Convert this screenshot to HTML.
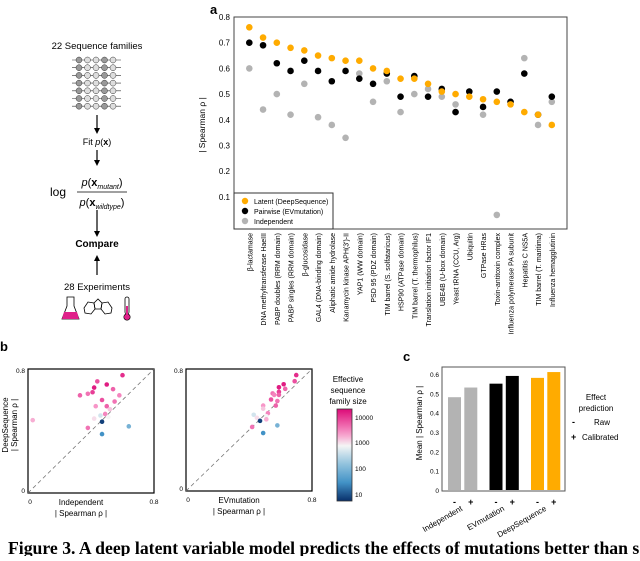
<!DOCTYPE html>
<html><head><meta charset="utf-8"><style>
body{margin:0;background:#fff;width:640px;height:556px;overflow:hidden;font-family:"Liberation Sans",sans-serif}
svg text{font-family:"Liberation Sans",sans-serif}
</style></head><body>
<svg id="fig" width="640" height="556" xmlns="http://www.w3.org/2000/svg">
<g id="flow">
<text x="97" y="49" font-size="9.5" text-anchor="middle">22 Sequence families</text>
<g id="grid"></g>
<line x1="97" y1="115" x2="97" y2="131" stroke="#000" stroke-width="1.2"/><polygon points="94,128 100,128 97,134" fill="#000"/>
<text x="97" y="145" font-size="9" text-anchor="middle">Fit <tspan font-style="italic">p</tspan>(<tspan font-weight="bold">x</tspan>)</text>
<line x1="97" y1="150" x2="97" y2="163" stroke="#000" stroke-width="1.2"/><polygon points="94,160 100,160 97,166" fill="#000"/>
<text x="50" y="196" font-size="12">log</text>
<text x="102" y="186" font-size="11" text-anchor="middle"><tspan font-style="italic">p</tspan>(<tspan font-weight="bold">x</tspan><tspan font-size="7" font-style="italic" dy="3">mutant</tspan><tspan dy="-3">)</tspan></text>
<line x1="77" y1="192" x2="127" y2="192" stroke="#000" stroke-width="0.8"/>
<text x="102" y="206" font-size="11" text-anchor="middle"><tspan font-style="italic">p</tspan>(<tspan font-weight="bold">x</tspan><tspan font-size="7" font-style="italic" dy="3">wildtype</tspan><tspan dy="-3">)</tspan></text>
<line x1="97" y1="210" x2="97" y2="234" stroke="#000" stroke-width="1.2"/><polygon points="94,231 100,231 97,237" fill="#000"/>
<text x="97" y="247" font-size="10" font-weight="bold" text-anchor="middle">Compare</text>
<line x1="97" y1="258" x2="97" y2="275" stroke="#000" stroke-width="1.2"/><polygon points="94,261 100,261 97,255" fill="#000"/>
<text x="97" y="290" font-size="9.5" text-anchor="middle">28 Experiments</text>
<g><path d="M67,297 L67,306 L62,319 L79,319 L74,306 L74,297 Z" fill="none" stroke="#000" stroke-width="0.8"/><path d="M64,312 L77,312 L79,319 L62,319 Z" fill="#e0218a"/></g>
<g fill="none" stroke="#000" stroke-width="0.8"><polygon points="84,308 88,302 94,303 95,309 91,314 85,313"/><polygon points="102,303 108,302 112,308 111,313 105,314 101,309"/><polygon points="94,303 98,299 102,303 101,309 95,309"/></g>
<g><rect x="125" y="297" width="4" height="17" rx="2" fill="none" stroke="#000" stroke-width="0.8"/><circle cx="127" cy="317" r="3.2" fill="#e0218a" stroke="#000" stroke-width="0.6"/><rect x="126" y="306" width="2" height="10" fill="#e0218a"/></g>
</g>
<text x="210" y="14" font-size="13" font-weight="bold">a</text>
<text x="0" y="351" font-size="13" font-weight="bold">b</text>
<text x="403" y="361" font-size="13" font-weight="bold">c</text>
<g id="pa"></g>
<g id="pb"></g>
<g id="pc"></g>
<text x="8" y="554" font-size="17.7" font-weight="bold" font-family="Liberation Serif" style="font-family:'Liberation Serif',serif">Figure 3. A deep latent variable model predicts the effects of mutations better than s</text>
</svg>
<script>
const NS="http://www.w3.org/2000/svg";
function mk(p,t,a,txt){const e=document.createElementNS(NS,t);for(const k in a)e.setAttribute(k,a[k]);if(txt!==undefined)e.textContent=txt;p.appendChild(e);return e;}
const categories=["β-lactamase","DNA methyltransferase HaeIII","PABP doubles (RRM domain)","PABP singles (RRM domain)","β-glucosidase","GAL4 (DNA-binding domain)","Aliphatic amide hydrolase","Kanamycin kinase APH(3')-II","YAP1 (WW domain)","PSD 95 (PDZ domain)","TIM barrel (S. solfataricus)","HSP90 (ATPase domain)","TIM barrel (T. thermophilus)","Translation initiation factor IF1","UBE4B (U-box domain)","Yeast tRNA (CCU, Arg)","Ubiquitin","GTPase HRas","Toxin-antitoxin complex","Influenza polymerase PA subunit","Hepatitis C NS5A","TIM barrel (T. maritima)","Influenza hemagglutinin"];
const latent=[.76,.72,.70,.68,.67,.65,.64,.63,.63,.60,.59,.56,.56,.54,.51,.50,.49,.48,.47,.46,.43,.42,.38];
const pairwise=[.70,.69,.62,.59,.63,.59,.55,.59,.56,.54,.58,.49,.57,.49,.52,.43,.51,.45,.51,.47,.58,.42,.49];
const independent=[.60,.44,.50,.42,.54,.41,.38,.33,.58,.47,.55,.43,.50,.52,.49,.46,.51,.42,.03,.47,.64,.38,.47];
const neffLog=[3.8,3.6,3.9,3.9,3.5,3.7,3.4,3.5,3.3,3.6,3.4,3.2,3.5,3.0,3.3,2.6,2.8,2.9,3.1,1.1,2.0,3.4,1.6];
const yTicks=[0.1,0.2,0.3,0.4,0.5,0.6,0.7,0.8];
const barVals=[.48,.53,.55,.59,.58,.61];
const barColors=["#b3b3b3","#b3b3b3","#000","#000","#ffab00","#ffab00"];
const barGroups=["Independent","EVmutation","DeepSequence"];
const barTicks=[0,0.1,0.2,0.3,0.4,0.5,0.6];

const g=document.getElementById('grid');
for(let r=0;r<7;r++){const y=60+r*7.7;mk(g,'line',{x1:72,y1:y,x2:121,y2:y,stroke:'#333','stroke-width':0.6});
 for(let c=0;c<5;c++){const cx=79+c*8.5;mk(g,'circle',{cx:cx,cy:y,r:3,fill:((r*3+c)%3==0)?'#999':'#ddd',stroke:'#333','stroke-width':0.5});}}

// panel a
const pa=document.getElementById('pa');
const L=234,R=567,T=17,B=229;
const ya=v=>T+(0.8-v)*257;
const xa=i=>249.3+i*13.75;
mk(pa,'rect',{x:L,y:T,width:R-L,height:B-T,fill:'none',stroke:'#444','stroke-width':1});
yTicks.forEach(t=>{const e=mk(pa,'text',{x:L-4,y:ya(t)+3,'font-size':8,'text-anchor':'end'},t.toFixed(1));

});
const yt=mk(pa,'text',{x:205,y:125,'font-size':8.5,'text-anchor':'middle',transform:'rotate(-90 205 125)'},'| Spearman ρ |');


categories.forEach((c,i)=>{const x=xa(i)+3,y=B+4;const e=mk(pa,'text',{x:x,y:y,'font-size':7,'text-anchor':'end',transform:`rotate(-90 ${x} ${y})`},c);

});
[[independent,'#b3b3b3','independent-point'],[pairwise,'#000','pairwise-point'],[latent,'#ffab00','latent-point']].forEach(([arr,col,nm])=>{
 arr.forEach((v,i)=>{const e=mk(pa,'circle',{cx:xa(i),cy:ya(v),r:3.3,fill:col});
 
 });});
mk(pa,'rect',{x:L,y:193,width:99,height:B-193,fill:'#fff',stroke:'#333','stroke-width':1});
[['Latent (DeepSequence)','#ffab00'],['Pairwise (EVmutation)','#000'],['Independent','#b3b3b3']].forEach(([t,c],k)=>{
 const y=201+k*10;const le=mk(pa,'g',{});
 
 
 mk(le,'circle',{cx:245,cy:y,r:3.2,fill:c});mk(le,'text',{x:254,y:y+3,'font-size':7},t);});

function ncol(l){const s=[[1,[8,48,107]],[1.6,[66,146,198]],[2.3,[158,202,225]],[2.8,[245,245,245]],[3.2,[247,150,200]],[3.6,[235,80,160]],[4,[220,10,120]]];
 if(l<=s[0][0])return `rgb(${s[0][1]})`;for(let i=1;i<s.length;i++){if(l<=s[i][0]){const f=(l-s[i-1][0])/(s[i][0]-s[i-1][0]);const a=s[i-1][1],b=s[i][1];return `rgb(${a.map((v,j)=>Math.round(v+(b[j]-v)*f)).join(',')})`;}}return `rgb(${s[s.length-1][1]})`;}

// panel b
const pb=document.getElementById('pb');
function scatter(x0,x1,y0,xs,xlab){const y1=369;const sx=v=>x0+v/0.8*(x1-x0),sy=v=>y0-v/0.8*(y0-y1);
 mk(pb,'rect',{x:x0,y:y1,width:x1-x0,height:y0-y1,fill:'none',stroke:'#000','stroke-width':1.2});
 mk(pb,'line',{x1:sx(0),y1:sy(0),x2:sx(0.8),y2:sy(0.8),stroke:'#777','stroke-dasharray':'4,3','stroke-width':0.8});
 mk(pb,'text',{x:x0-3,y:y1+4,'font-size':6.5,'text-anchor':'end'},'0.8');mk(pb,'text',{x:x0-3,y:y0,'font-size':6.5,'text-anchor':'end'},'0');
 mk(pb,'text',{x:x0+2,y:y0+11,'font-size':6.5,'text-anchor':'middle'},'0');mk(pb,'text',{x:x1,y:y0+11,'font-size':6.5,'text-anchor':'middle'},'0.8');
 mk(pb,'text',{x:(x0+x1)/2-10,y:y0+12,'font-size':8,'text-anchor':'middle'},xlab);
 mk(pb,'text',{x:(x0+x1)/2-10,y:y0+23,'font-size':8,'text-anchor':'middle'},'| Spearman ρ |');
 xs.forEach((v,i)=>{const e=mk(pb,'circle',{cx:sx(v),cy:sy(latent[i]),r:2.3,fill:ncol(neffLog[i])});
 
 });}
scatter(28,154,493,independent,'Independent');
scatter(186,312,491,pairwise,'EVmutation');
mk(pb,'text',{x:8,y:425,'font-size':8,'text-anchor':'middle',transform:'rotate(-90 8 425)'},'DeepSequence');
mk(pb,'text',{x:17,y:425,'font-size':8,'text-anchor':'middle',transform:'rotate(-90 17 425)'},'| Spearman ρ |');
['Effective','sequence','family size'].forEach((t,k)=>mk(pb,'text',{x:348,y:382+k*11,'font-size':8,'text-anchor':'middle'},t));
const cb=mk(pb,'defs',{});const lg=mk(cb,'linearGradient',{id:'cbg',x1:0,y1:1,x2:0,y2:0});
for(let k=0;k<=10;k++)mk(lg,'stop',{offset:k/10,'stop-color':ncol(1+k*0.3)});
mk(pb,'rect',{x:337,y:409,width:15,height:92,fill:'url(#cbg)',stroke:'#333','stroke-width':0.8});
[[10,495],[100,469],[1000,443],[10000,418]].forEach(([t,y])=>mk(pb,'text',{x:355,y:y+2,'font-size':6.5},t));

// panel c
const pc=document.getElementById('pc');
const cx0=442,cx1=565,cy0=491,cy1=367;const syc=v=>490-v/0.6*116;
mk(pc,'rect',{x:cx0,y:cy1,width:cx1-cx0,height:cy0-cy1,fill:'none',stroke:'#555','stroke-width':1});
barTicks.forEach(t=>mk(pc,'text',{x:cx0-3,y:syc(t)+3,'font-size':6.5,'text-anchor':'end'},t===0?'0':t.toFixed(1)));
mk(pc,'text',{x:422,y:423,'font-size':8,'text-anchor':'middle',transform:'rotate(-90 422 423)'},'Mean | Spearman ρ |');
barVals.forEach((v,i)=>{const x=448+Math.floor(i/2)*41.5+(i%2)*16.3;
 const e=mk(pc,'rect',{x:x,y:syc(v),width:13,height:490-syc(v),fill:barColors[i]});
 
 
 mk(pc,'text',{x:x+6.5,y:505,'font-size':9,'font-weight':'bold','text-anchor':'middle'},i%2?'+':'-');});
barGroups.forEach((t,k)=>{const x=463+k*42,y=510;mk(pc,'text',{x:x,y:y,'font-size':8,'text-anchor':'end',transform:`rotate(-30 ${x} ${y})`},t);});
mk(pc,'text',{x:596,y:400,'font-size':8,'text-anchor':'middle'},'Effect');
mk(pc,'text',{x:596,y:411,'font-size':8,'text-anchor':'middle'},'prediction');
mk(pc,'text',{x:572,y:425,'font-size':9,'font-weight':'bold'},'-');mk(pc,'text',{x:594,y:425,'font-size':8},'Raw');
mk(pc,'text',{x:571,y:440,'font-size':9,'font-weight':'bold'},'+');mk(pc,'text',{x:582,y:440,'font-size':8},'Calibrated');
</script>
</body></html>
